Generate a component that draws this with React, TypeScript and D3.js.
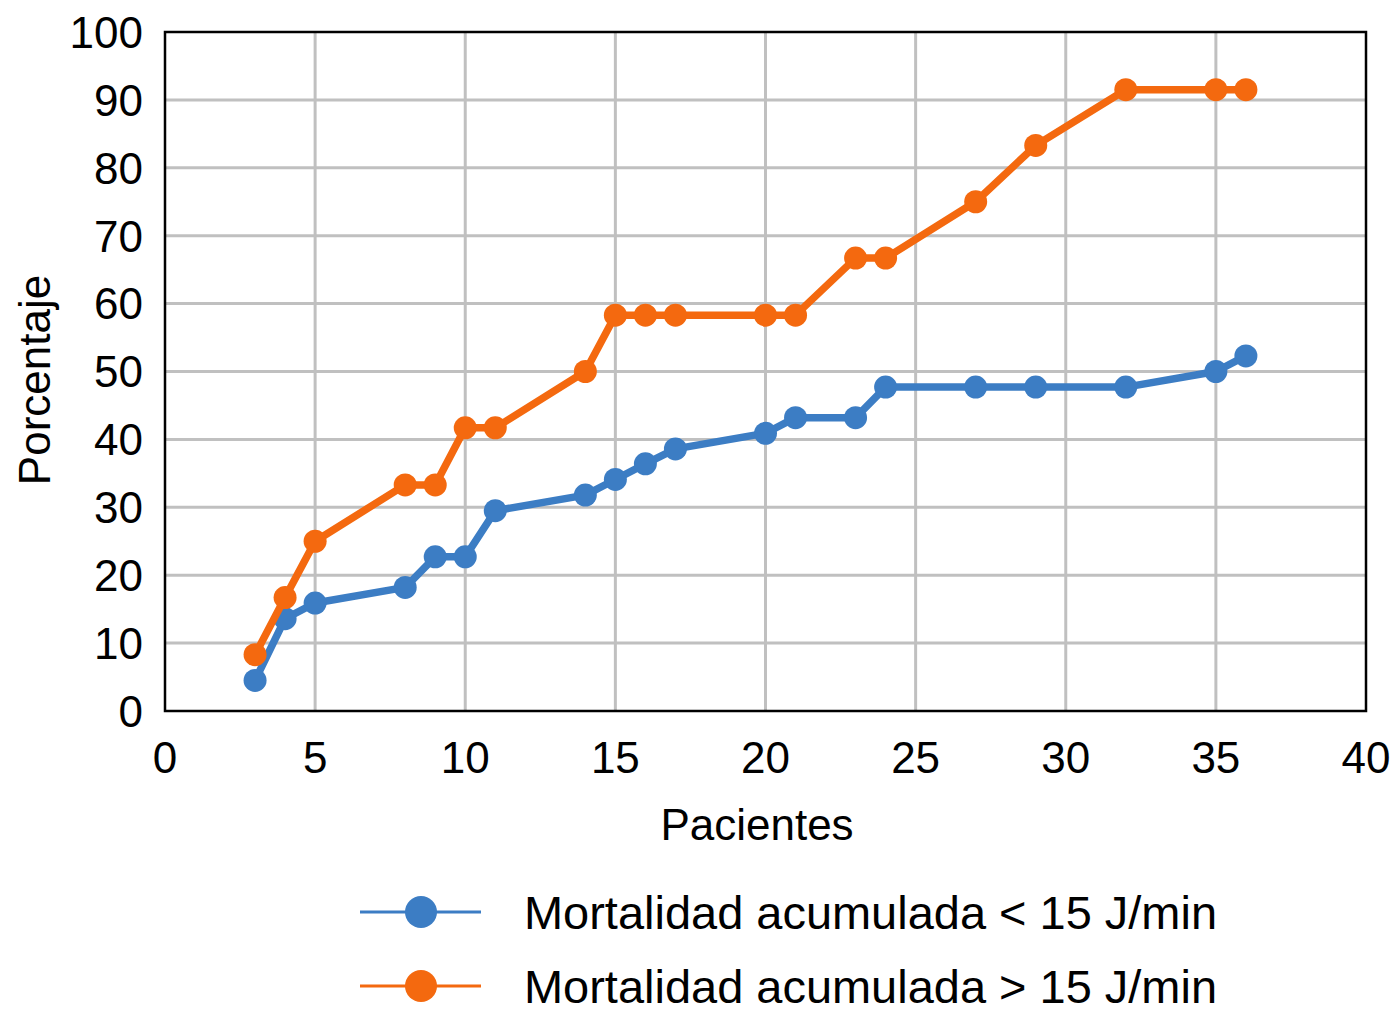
import * as d3 from "d3";

const patients = [3, 4, 5, 8, 9, 10, 11, 14, 15, 16, 17, 20, 21, 23, 24, 27, 29, 32, 35, 36];
const lowValues = [4.5, 13.6, 15.9, 18.2, 22.7, 22.7, 29.5, 31.8, 34.1, 36.4, 38.6, 40.9, 43.2, 43.2, 47.7, 47.7, 47.7, 47.7, 50, 52.3];
const highValues = [8.3, 16.7, 25, 33.3, 33.3, 41.7, 41.7, 50, 58.3, 58.3, 58.3, 58.3, 58.3, 66.7, 66.7, 75, 83.3, 91.5, 91.5, 91.5];
const xTicks = [0, 5, 10, 15, 20, 25, 30, 35, 40];
const yTicks = [0, 10, 20, 30, 40, 50, 60, 70, 80, 90, 100];
const seriesNames = ["Mortalidad acumulada < 15 J/min", "Mortalidad acumulada > 15 J/min"];

const W = 1394;
const H = 1024;
const FONT = "'Liberation Sans', Arial, Helvetica, sans-serif";
const BLUE = "#3c7dc4";
const ORANGE = "#f4690f";
const GRID = "#c0c0c0";

const x = d3.scaleLinear().domain([0, 40]).range([165, 1366]);
const y = d3.scaleLinear().domain([0, 100]).range([711, 32]);

const series = [
  { name: seriesNames[0], values: lowValues, color: BLUE },
  { name: seriesNames[1], values: highValues, color: ORANGE },
];

export default function App() {
  const line = d3
    .line<number>()
    .x((_, i) => x(patients[i]))
    .y((d) => y(d));

  return (
    <svg
      width={W}
      height={H}
      style={{ position: "absolute", left: 0, top: 0, display: "block", background: "#fff" }}
      fontFamily={FONT}
    >
      {/* grid */}
      {xTicks.slice(1, -1).map((t) => (
        <line key={"gx" + t} x1={x(t)} x2={x(t)} y1={y(100)} y2={y(0)} stroke={GRID} strokeWidth={3} />
      ))}
      {yTicks.slice(1, -1).map((t) => (
        <line key={"gy" + t} x1={x(0)} x2={x(40)} y1={y(t)} y2={y(t)} stroke={GRID} strokeWidth={3} />
      ))}
      <rect x={x(0)} y={y(100)} width={x(40) - x(0)} height={y(0) - y(100)} fill="none" stroke="#000" strokeWidth={2.5} />

      {/* tick labels */}
      {yTicks.map((t) => (
        <text key={"ty" + t} x={143} y={y(t)} dy="0.36em" textAnchor="end" fontSize={44} fill="#000">
          {t}
        </text>
      ))}
      {xTicks.map((t) => (
        <text key={"tx" + t} x={x(t)} y={773} textAnchor="middle" fontSize={44} fill="#000">
          {t}
        </text>
      ))}

      <text x={757} y={840} textAnchor="middle" fontSize={44} fill="#000">
        Pacientes
      </text>
      <text transform="translate(50,380) rotate(-90)" textAnchor="middle" fontSize={44} fill="#000">
        Porcentaje
      </text>

      {/* series */}
      {series.map((s) => (
        <g key={s.name}>
          <path d={line(s.values) ?? ""} fill="none" stroke={s.color} strokeWidth={7.5} strokeLinejoin="round" />
          {s.values.map((v, i) => (
            <circle key={i} cx={x(patients[i])} cy={y(v)} r={11.5} fill={s.color} />
          ))}
        </g>
      ))}

      {/* legend */}
      {series.map((s, i) => {
        const ly = 912 + i * 74;
        return (
          <g key={"lg" + i}>
            <line x1={360} x2={481} y1={ly} y2={ly} stroke={s.color} strokeWidth={3} />
            <circle cx={421} cy={ly} r={16} fill={s.color} />
            <text
              x={524}
              y={ly + 17}
              fontSize={47}
              textLength={693}
              lengthAdjust="spacingAndGlyphs"
              fill="#000"
            >
              {s.name}
            </text>
          </g>
        );
      })}
    </svg>
  );
}
